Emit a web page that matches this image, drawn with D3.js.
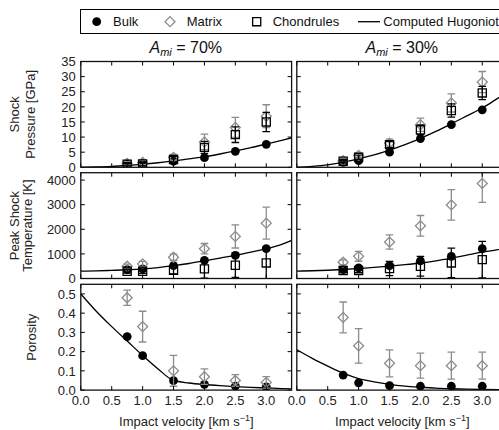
<!DOCTYPE html>
<html><head><meta charset="utf-8">
<script src="https://cdn.jsdelivr.net/npm/d3@7"></script>
<style>
html,body{margin:0;padding:0;background:#fff;}
svg{display:block;font-family:"Liberation Sans",Arial,sans-serif;}
</style></head>
<body>
<svg id="chart" width="499" height="430"></svg>
<script>
// ---------------- DATA ----------------
const velocity = [0.75, 1.0, 1.5, 2.0, 2.5, 3.0];
const curveVelocity = [0, 0.25, 0.5, 0.75, 1.0, 1.25, 1.5, 1.75, 2.0, 2.25, 2.5, 2.75, 3.0, 3.25, 3.5];
const xTicks = [0, 0.5, 1.0, 1.5, 2.0, 2.5, 3.0];
const panelTitles = ["70%", "30%"];
const legendLabels = ["Bulk", "Matrix", "Chondrules", "Computed Hugoniot"];

// Shock pressure [GPa]
const pressureBulk70 = [1.1, 1.3, 2.0, 3.2, 5.3, 7.6];
const pressureMatrix70 = [1.3, 1.6, 3.3, 8.4, 13.2, 16.9];
const pressureMatrixErr70 = [0.6, 0.7, 1.0, 2.6, 3.3, 3.8];
const pressureChond70 = [1.0, 1.1, 2.6, 6.6, 10.8, 15.0];
const pressureChondErr70 = [0.5, 0.6, 0.9, 2.0, 2.6, 3.2];
const pressureCurve70 = [0, 0.1, 0.28, 0.6, 1.0, 1.5, 2.1, 2.8, 3.5, 4.4, 5.4, 6.5, 7.7, 8.9, 10.2];

const pressureBulk30 = [1.65, 2.2, 5.0, 9.5, 14.1, 19.0];
const pressureMatrix30 = [2.2, 3.9, 8.0, 14.1, 21.3, 28.2];
const pressureMatrixErr30 = [0.6, 0.8, 1.3, 2.2, 3.0, 3.5];
const pressureChond30 = [2.0, 3.3, 7.5, 12.4, 18.8, 24.6];
const pressureChondErr30 = [0.5, 0.7, 1.0, 1.6, 2.2, 2.2];
const pressureCurve30 = [0, 0.3, 0.8, 1.7, 2.8, 4.1, 5.7, 7.5, 9.6, 11.9, 14.4, 17.0, 19.6, 22.8, 25.9];

// Peak shock temperature [K]
const tempBulk70 = [364, 390, 525, 740, 943, 1212];
const tempMatrix70 = [498, 593, 862, 1212, 1710, 2249];
const tempMatrixErr70 = [90, 100, 130, 210, 470, 650];
const tempChond70 = [296, 296, 337, 390, 540, 633];
const tempChondErr70 = [80, 90, 150, 380, 500, 650];
const tempCurve70 = [300, 310, 330, 355, 390, 445, 520, 610, 720, 830, 940, 1070, 1210, 1390, 1650];

const tempBulk30 = [364, 431, 525, 714, 902, 1212];
const tempMatrix30 = [660, 902, 1481, 2141, 2990, 3865];
const tempMatrixErr30 = [100, 200, 290, 420, 620, 770];
const tempChond30 = [323, 323, 404, 498, 633, 768];
const tempChondErr30 = [80, 90, 290, 400, 600, 740];
const tempCurve30 = [300, 315, 335, 365, 405, 450, 500, 560, 630, 720, 830, 950, 1070, 1170, 1320];

// Porosity
const porosityBulk70 = [0.278, 0.179, 0.049, 0.03, 0.021, 0.017];
const porosityMatrix70 = [0.48, 0.33, 0.10, 0.07, 0.05, 0.04];
const porosityMatrixErr70 = [0.04, 0.08, 0.08, 0.04, 0.03, 0.03];
const porosityCurve70 = [0.5, 0.41, 0.33, 0.255, 0.18, 0.11, 0.05, 0.037, 0.029, 0.023, 0.018, 0.014, 0.011, 0.008, 0.006];

const porosityBulk30 = [0.078, 0.038, 0.023, 0.02, 0.02, 0.02];
const porosityMatrix30 = [0.378, 0.23, 0.139, 0.127, 0.127, 0.127];
const porosityMatrixErr30 = [0.08, 0.09, 0.07, 0.065, 0.07, 0.07];
const porosityCurve30 = [0.21, 0.165, 0.125, 0.088, 0.06, 0.043, 0.03, 0.021, 0.015, 0.01, 0.007, 0.005, 0.003, 0.002, 0.001];

const yTicksPressure = [0, 5, 10, 15, 20, 25, 30, 35];
const yTicksTemp = [0, 1000, 2000, 3000, 4000];
const yTicksPorosity = [0.0, 0.1, 0.2, 0.3, 0.4, 0.5];

// ---------------- LAYOUT ----------------
const svg = d3.select("#chart");
const colX = [80.8, 296.8];
const panelW = 210.8;
const rowY = [61.5, 172.7, 284.3];
const panelH = 105.8;
const matrixColor = "#8c8c8c";

const rows = [
  { domain: [0, 35], ticks: yTicksPressure, fmt: d => String(d), label: ["Shock", "Pressure [GPa]"],
    labelX: [19, 35],
    data: [
      { bulk: pressureBulk70, mat: pressureMatrix70, matErr: pressureMatrixErr70, ch: pressureChond70, chErr: pressureChondErr70, curve: pressureCurve70 },
      { bulk: pressureBulk30, mat: pressureMatrix30, matErr: pressureMatrixErr30, ch: pressureChond30, chErr: pressureChondErr30, curve: pressureCurve30 }
    ]},
  { domain: [0, 4300], ticks: yTicksTemp, fmt: d => String(d), label: ["Peak Shock", "Temperature [K]"],
    labelX: [19, 32],
    data: [
      { bulk: tempBulk70, mat: tempMatrix70, matErr: tempMatrixErr70, ch: tempChond70, chErr: tempChondErr70, curve: tempCurve70 },
      { bulk: tempBulk30, mat: tempMatrix30, matErr: tempMatrixErr30, ch: tempChond30, chErr: tempChondErr30, curve: tempCurve30 }
    ]},
  { domain: [0, 0.55], ticks: yTicksPorosity, fmt: d3.format(".1f"), label: ["Porosity"],
    labelX: [36],
    data: [
      { bulk: porosityBulk70, mat: porosityMatrix70, matErr: porosityMatrixErr70, ch: null, chErr: null, curve: porosityCurve70 },
      { bulk: porosityBulk30, mat: porosityMatrix30, matErr: porosityMatrixErr30, ch: null, chErr: null, curve: porosityCurve30 }
    ]}
];

// rhombus (square rotated 45deg) and square markers
const diamond = d3.symbol().type(d3.symbolSquare).size(50);
const square = d3.symbol().type(d3.symbolSquare).size(66);

function errBars(g, x, y, vals, errs, color) {
  const eg = g.append("g").attr("stroke", color).attr("stroke-width", 1.3).attr("fill", "none");
  velocity.forEach((v, i) => {
    const cx = x(v), y1 = y(vals[i] + errs[i]), y2 = y(vals[i] - errs[i]);
    eg.append("line").attr("x1", cx).attr("x2", cx).attr("y1", y1).attr("y2", y2);
    eg.append("line").attr("x1", cx - 3.8).attr("x2", cx + 3.8).attr("y1", y1).attr("y2", y1);
    eg.append("line").attr("x1", cx - 3.8).attr("x2", cx + 3.8).attr("y1", y2).attr("y2", y2);
  });
}

rows.forEach((row, r) => {
  const top = rowY[r];
  const y = d3.scaleLinear().domain(row.domain).range([top + panelH, top]);
  row.data.forEach((d, c) => {
    const left = colX[c];
    const x = d3.scaleLinear().domain([0, 3.41]).range([left, left + panelW]);
    const clipId = `clip-${r}-${c}`;
    svg.append("clipPath").attr("id", clipId).append("rect")
      .attr("x", left).attr("y", top).attr("width", panelW).attr("height", panelH);
    const g = svg.append("g").attr("clip-path", `url(#${clipId})`);

    // curve
    g.append("path")
      .datum(curveVelocity.map((v, i) => [v, d.curve[i]]))
      .attr("fill", "none").attr("stroke", "#000").attr("stroke-width", 1.3)
      .attr("d", d3.line().curve(d3.curveMonotoneX).x(p => x(p[0])).y(p => y(p[1])));

    // bulk
    g.append("g").selectAll("circle").data(velocity).join("circle")
      .attr("cx", v => x(v)).attr("cy", (v, i) => y(d.bulk[i])).attr("r", 4.4).attr("fill", "#000");

    // matrix
    errBars(g, x, y, d.mat, d.matErr, matrixColor);
    g.append("g").selectAll("path").data(velocity).join("path")
      .attr("transform", (v, i) => `translate(${x(v)},${y(d.mat[i])}) rotate(45)`)
      .attr("d", diamond).attr("fill", "none").attr("stroke", matrixColor).attr("stroke-width", 1.3);

    // chondrules
    if (d.ch) {
      errBars(g, x, y, d.ch, d.chErr, "#000");
      g.append("g").selectAll("path").data(velocity).join("path")
        .attr("transform", (v, i) => `translate(${x(v)},${y(d.ch[i])})`)
        .attr("d", square).attr("fill", "none").attr("stroke", "#000").attr("stroke-width", 1.3);
    }

    // ticks (inward, all sides)
    const tk = svg.append("g").attr("stroke", "#000").attr("stroke-width", 1);
    xTicks.forEach(t => {
      tk.append("line").attr("x1", x(t)).attr("x2", x(t)).attr("y1", top + panelH).attr("y2", top + panelH - 4);
      tk.append("line").attr("x1", x(t)).attr("x2", x(t)).attr("y1", top).attr("y2", top + 4);
    });
    row.ticks.forEach(t => {
      tk.append("line").attr("x1", left).attr("x2", left + 4).attr("y1", y(t)).attr("y2", y(t));
      tk.append("line").attr("x1", left + panelW).attr("x2", left + panelW - 4).attr("y1", y(t)).attr("y2", y(t));
    });

    // frame
    svg.append("rect").attr("x", left).attr("y", top).attr("width", panelW).attr("height", panelH)
      .attr("fill", "none").attr("stroke", "#111").attr("stroke-width", 1.3);

    // y tick labels on left column
    if (c === 0) {
      const lg = svg.append("g").attr("font-size", 13).attr("fill", "#222").attr("text-anchor", "end");
      row.ticks.forEach(t => {
        lg.append("text").attr("x", left - 5).attr("y", y(t)).attr("dy", "0.36em").text(row.fmt(t));
      });
    }
    // x tick labels on bottom row
    if (r === rows.length - 1) {
      const lg = svg.append("g").attr("font-size", 13).attr("fill", "#222").attr("text-anchor", "middle");
      xTicks.forEach(t => {
        lg.append("text").attr("x", x(t)).attr("y", top + panelH + 15).text(d3.format(".1f")(t));
      });
      const xl = svg.append("text").attr("x", left + 105.5).attr("y", 426)
        .attr("font-size", 13).attr("fill", "#222").attr("text-anchor", "middle");
      xl.append("tspan").text("Impact velocity [km s");
      xl.append("tspan").attr("dy", -5).attr("font-size", 9).text("\u22121");
      xl.append("tspan").attr("dy", 5).text("]");
    }
    // titles on top row
    if (r === 0) {
      const tt = svg.append("text").attr("x", left + 105).attr("y", 53).attr("font-size", 16)
        .attr("fill", "#111").attr("text-anchor", "middle");
      tt.append("tspan").attr("font-style", "italic").text("A");
      tt.append("tspan").attr("font-style", "italic").attr("font-size", 11).attr("dy", 3).text("mi");
      tt.append("tspan").attr("dy", -3).text(" = " + panelTitles[c]);
    }
  });

  // y label
  const cy = top + panelH / 2;
  row.label.forEach((line, k) => {
    svg.append("text").attr("transform", `translate(${row.labelX[k]},${cy}) rotate(-90)`)
      .attr("text-anchor", "middle").attr("font-size", 13).attr("fill", "#222").text(line);
  });
});

// ---------------- LEGEND ----------------
const leg = svg.append("g");
leg.append("rect").attr("x", 80.5).attr("y", 9.5).attr("width", 440).attr("height", 24)
  .attr("fill", "#fff").attr("stroke", "#000").attr("stroke-width", 1);
const ly = 21.7;
leg.append("circle").attr("cx", 96.7).attr("cy", ly).attr("r", 4.4).attr("fill", "#000");
leg.append("path").attr("transform", `translate(170,${ly}) rotate(45)`).attr("d", diamond)
  .attr("fill", "none").attr("stroke", matrixColor).attr("stroke-width", 1.3);
leg.append("path").attr("transform", `translate(256.7,${ly})`).attr("d", square)
  .attr("fill", "none").attr("stroke", "#000").attr("stroke-width", 1.3);
leg.append("line").attr("x1", 358).attr("x2", 380).attr("y1", ly).attr("y2", ly).attr("stroke", "#000").attr("stroke-width", 1.3);
const legX = [113, 186.7, 272.7, 383.3];
legendLabels.forEach((t, i) => {
  leg.append("text").attr("x", legX[i]).attr("y", 26.3).attr("font-size", 13).attr("fill", "#111").text(t);
});
</script>
</body></html>
